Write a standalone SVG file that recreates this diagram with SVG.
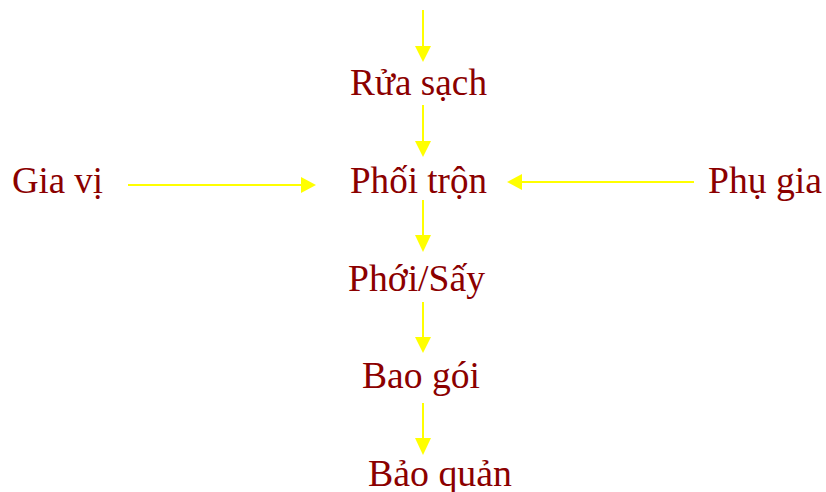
<svg xmlns="http://www.w3.org/2000/svg" width="826" height="492" viewBox="0 0 826 492">
  <style>
    .lbl { font-family: "Liberation Serif", "Times New Roman", serif; font-size: 37px; fill: #8B0000; }
    .flow { stroke: #FFFF00; stroke-width: 2; fill: none; }
    .head { fill: #FFFF00; }
  </style>
  <rect width="826" height="492" fill="#FFFFFF"/>

  <!-- connectors -->
  <g id="connectors">
    <line class="flow" x1="423" y1="10" x2="423" y2="48"/>
    <polygon class="head" points="415,46 431,46 423,62"/>

    <line class="flow" x1="423" y1="105" x2="423" y2="143"/>
    <polygon class="head" points="415,141 431,141 423,157"/>

    <line class="flow" x1="423" y1="200" x2="423" y2="237"/>
    <polygon class="head" points="415,235 431,235 423,252"/>

    <line class="flow" x1="423" y1="302" x2="423" y2="339"/>
    <polygon class="head" points="415,337 431,337 423,353"/>

    <line class="flow" x1="423" y1="403" x2="423" y2="440"/>
    <polygon class="head" points="415,438 431,438 423,455"/>

    <line class="flow" x1="128" y1="185" x2="303" y2="185"/>
    <polygon class="head" points="301,177 301,193 316,185"/>

    <line class="flow" x1="694" y1="182" x2="520" y2="182"/>
    <polygon class="head" points="522,174 522,190 507,182"/>
  </g>

  <!-- nodes -->
  <g id="rua-sach"><text class="lbl" x="350" y="95" textLength="137" lengthAdjust="spacingAndGlyphs">Rửa sạch</text></g>
  <g id="phoi-tron"><text class="lbl" x="350" y="193" textLength="137" lengthAdjust="spacingAndGlyphs">Phối trộn</text></g>
  <g id="gia-vi"><text class="lbl" x="12" y="193" textLength="91" lengthAdjust="spacingAndGlyphs">Gia vị</text></g>
  <g id="phu-gia"><text class="lbl" x="708" y="193" textLength="114" lengthAdjust="spacingAndGlyphs">Phụ gia</text></g>
  <g id="phoi-say"><text class="lbl" x="348" y="291" textLength="137" lengthAdjust="spacingAndGlyphs">Phới/Sấy</text></g>
  <g id="bao-goi"><text class="lbl" x="362" y="388" textLength="118" lengthAdjust="spacingAndGlyphs">Bao gói</text></g>
  <g id="bao-quan"><text class="lbl" x="368" y="486" textLength="144" lengthAdjust="spacingAndGlyphs">Bảo quản</text></g>
</svg>
